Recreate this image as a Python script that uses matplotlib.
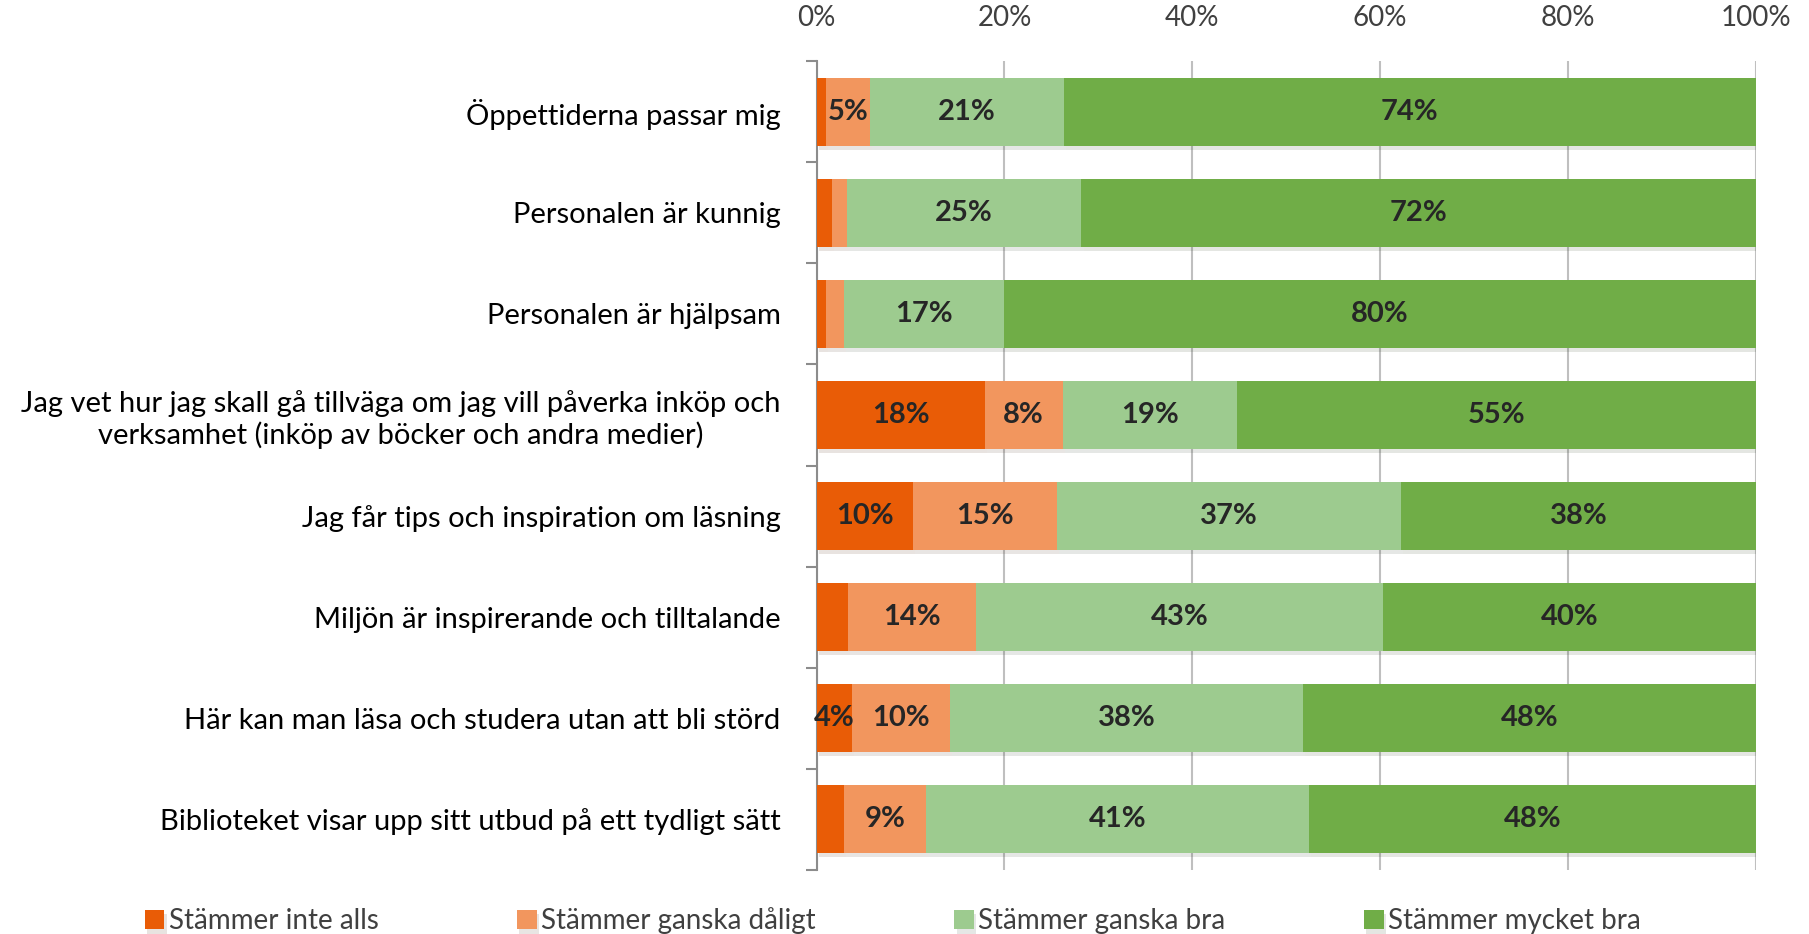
import matplotlib
matplotlib.use("Agg")
import matplotlib.pyplot as plt
from matplotlib import patheffects
import numpy as np

plt.rcParams['font.family'] = ['Lato', 'DejaVu Sans']

categories = [
    "Öppettiderna passar mig",
    "Personalen är kunnig",
    "Personalen är hjälpsam",
    "Jag vet hur jag skall gå tillväga om jag vill påverka inköp och\nverksamhet (inköp av böcker och andra medier)",
    "Jag får tips och inspiration om läsning",
    "Miljön är inspirerande och tilltalande",
    "Här kan man läsa och studera utan att bli störd",
    "Biblioteket visar upp sitt utbud på ett tydligt sätt",
]
series_names = ["Stämmer inte alls", "Stämmer ganska dåligt",
                "Stämmer ganska bra", "Stämmer mycket bra"]
inte_alls = [1.0, 1.6, 1.0, 17.9, 10.3, 3.3, 3.8, 2.9]
ganska_daligt = [4.7, 1.6, 1.9, 8.3, 15.3, 13.7, 10.4, 8.8]
ganska_bra = [20.6, 25.0, 17.0, 18.6, 36.6, 43.3, 37.6, 40.7]
mycket_bra = [73.7, 71.8, 80.1, 55.2, 37.8, 39.7, 48.2, 47.6]
colors = ["#E95C06", "#F2965E", "#9DCB8F", "#70AD47"]

fig = plt.figure(figsize=(18.09, 9.34), dpi=100)
ax = fig.add_axes([0.4514, 0.0690, 0.9707 - 0.4514, 0.9342 - 0.0690])

y = np.arange(len(categories))
left = np.zeros(len(categories))
shadow = [patheffects.withSimplePatchShadow(offset=(1.5, -3), alpha=0.12)]
for name, vals, col in zip(series_names, [inte_alls, ganska_daligt, ganska_bra, mycket_bra], colors):
    vals = np.array(vals)
    bars = ax.barh(y, vals, left=left, height=0.667, color=col, label=name,
                   zorder=3, path_effects=shadow)
    for b, v in zip(bars, vals):
        if v >= 3.5:
            ax.text(b.get_x() + b.get_width() / 2, b.get_y() + b.get_height() / 2,
                    f"{v:.0f}%", ha='center', va='center', fontsize=21,
                    fontweight='bold', color='#262626', zorder=4)
    left += vals

ax.set_xlim(0, 100)
ax.set_ylim(len(categories) - 0.5, -0.5)
ax.xaxis.tick_top()
ax.set_xticks([0, 20, 40, 60, 80, 100])
ax.set_xticklabels([f"{t}%" for t in [0, 20, 40, 60, 80, 100]])
ax.tick_params(axis='x', length=0, pad=22, labelsize=20, labelcolor='#404040')
ax.set_yticks(y)
ax.set_yticklabels(categories, multialignment='center')
ax.tick_params(axis='y', length=0, pad=26, labelsize=21, labelcolor='#000000')
ax.set_yticks(np.arange(len(categories) + 1) - 0.5, minor=True)
ax.tick_params(axis='y', which='minor', length=8, width=1.5, color='#8C8C8C')
ax.grid(axis='x', color='#BFBFBF', linewidth=1.5, zorder=0)
for s in ['top', 'right', 'bottom']:
    ax.spines[s].set_visible(False)
ax.spines['left'].set_color('#8C8C8C')
ax.spines['left'].set_linewidth(1.5)

fig.legend(loc='center', bbox_to_anchor=(0.4935, 0.014), ncol=4, frameon=False,
           fontsize=20, handlelength=0.7, handleheight=0.7, handletextpad=0.15,
           columnspacing=5.0, labelcolor='#404040')

fig.savefig("out.png", dpi=100)
